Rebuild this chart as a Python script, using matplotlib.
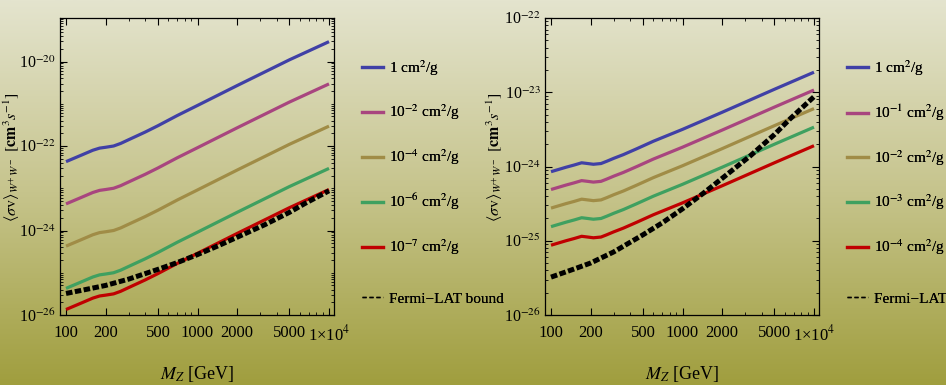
import numpy as np
import matplotlib
matplotlib.use("Agg")
import matplotlib.pyplot as plt
from matplotlib.ticker import FixedLocator, FixedFormatter, NullFormatter
from matplotlib.lines import Line2D

plt.rcParams['font.family'] = ['Liberation Serif', 'DejaVu Serif']
plt.rcParams['mathtext.fontset'] = 'stix'

# ---------------- data (log10 of <sigma v> in cm^3/s) ----------------
mz_left = [100, 130, 160, 180, 200, 230, 260, 300, 400, 500, 700, 1000, 2000, 5000, 10000]
log_left_1 = [-22.37, -22.22, -22.10, -22.05, -22.03, -22.00, -21.94, -21.85, -21.67, -21.52, -21.28, -21.04, -20.57, -19.96, -19.53]
log_left_1e2 = [-23.37, -23.22, -23.10, -23.05, -23.03, -23.00, -22.94, -22.85, -22.67, -22.52, -22.28, -22.04, -21.57, -20.96, -20.53]
log_left_1e4 = [-24.37, -24.22, -24.10, -24.05, -24.03, -24.00, -23.94, -23.85, -23.67, -23.52, -23.28, -23.04, -22.57, -21.96, -21.53]
log_left_1e6 = [-25.37, -25.22, -25.10, -25.05, -25.03, -25.00, -24.94, -24.85, -24.67, -24.52, -24.28, -24.04, -23.57, -22.96, -22.53]
log_left_1e7 = [-25.87, -25.72, -25.60, -25.55, -25.53, -25.50, -25.44, -25.35, -25.17, -25.02, -24.78, -24.54, -24.07, -23.46, -23.03]
labels_left = ['1 cm$^{2}$/g', '10$^{-2}$ cm$^{2}$/g', '10$^{-4}$ cm$^{2}$/g',
               '10$^{-6}$ cm$^{2}$/g', '10$^{-7}$ cm$^{2}$/g']

mz_right = [100, 130, 150, 171, 190, 210, 240, 265, 300, 355, 450, 600, 1000, 2000, 5000, 10000]
log_right_1 = [-24.07, -24.01, -23.98, -23.95, -23.96, -23.97, -23.96, -23.93, -23.89, -23.84, -23.76, -23.66, -23.50, -23.27, -22.96, -22.73]
log_right_1e1 = [-24.31, -24.25, -24.22, -24.19, -24.20, -24.21, -24.20, -24.17, -24.13, -24.08, -24.00, -23.90, -23.74, -23.51, -23.20, -22.97]
log_right_1e2 = [-24.56, -24.50, -24.47, -24.44, -24.45, -24.46, -24.45, -24.42, -24.38, -24.33, -24.25, -24.15, -23.99, -23.76, -23.45, -23.22]
log_right_1e3 = [-24.81, -24.75, -24.72, -24.69, -24.70, -24.71, -24.70, -24.67, -24.63, -24.58, -24.50, -24.40, -24.24, -24.01, -23.70, -23.47]
log_right_1e4 = [-25.06, -25.00, -24.97, -24.94, -24.95, -24.96, -24.95, -24.92, -24.88, -24.83, -24.75, -24.65, -24.49, -24.26, -23.95, -23.72]
labels_right = ['1 cm$^{2}$/g', '10$^{-1}$ cm$^{2}$/g', '10$^{-2}$ cm$^{2}$/g',
                '10$^{-3}$ cm$^{2}$/g', '10$^{-4}$ cm$^{2}$/g']

mz_fermi = [100, 150, 200, 300, 500, 700, 1000, 1440, 2000, 3260, 5000, 6560, 10000]
log_fermi = [-25.49, -25.38, -25.30, -25.15, -24.92, -24.76, -24.57, -24.36, -24.16, -23.86, -23.57, -23.36, -23.06]
fermi_label = 'Fermi\u2212LAT bound'

x_ticks = [100, 200, 500, 1000, 2000, 5000, 10000]
x_ticklabels = ['100', '200', '500', '1000', '2000', '5000', '1\u00d710$^{4}$']

colors = ['#4040a6', '#a8457f', '#a08c46', '#3fa060', '#c00000']

# ---------------- figure ----------------
W, H = 946, 385
fig = plt.figure(figsize=(W / 100, H / 100), dpi=100)

# gradient background
bg = fig.add_axes([0, 0, 1, 1], zorder=-10)
top = np.array([228, 228, 206]) / 255.0
mid = np.array([198, 196, 140]) / 255.0
bot = np.array([160, 158, 62]) / 255.0
t = np.linspace(0, 1, 256)[:, None]
grad = np.where(t < 0.5, top + (mid - top) * (t / 0.5), mid + (bot - mid) * ((t - 0.5) / 0.5))
bg.imshow(grad[:, None, :], aspect='auto', extent=[0, 1, 0, 1], origin='upper')
bg.axis('off')

ax_w = 274 / W
ax_h = (315 - 18) / H
ax_b = 1 - 315 / H
axL = fig.add_axes([60 / W, ax_b, ax_w, ax_h])
axR = fig.add_axes([545 / W, ax_b, ax_w, ax_h])

ylabel = r'$\langle \sigma \mathrm{v} \rangle_{W^{+}\,W^{-}}\;\; [\mathbf{cm}^{3} s^{-1}]$'


def style(ax, ylim, ymajors, ylab_x):
    ax.set_xscale('log')
    ax.set_yscale('log')
    ax.patch.set_alpha(0)
    ax.set_xlim(90, 10915)
    ax.set_ylim(*ylim)
    ax.xaxis.set_major_locator(FixedLocator(x_ticks))
    ax.xaxis.set_major_formatter(FixedFormatter(x_ticklabels))
    xmin = [m * 10 ** e for e in (2, 3) for m in range(1, 10)] + [10000]
    xmin = [v for v in xmin if v not in x_ticks]
    ax.xaxis.set_minor_locator(FixedLocator(xmin))
    ax.xaxis.set_minor_formatter(NullFormatter())
    ax.yaxis.set_major_locator(FixedLocator([10.0 ** e for e in ymajors]))
    ax.yaxis.set_major_formatter(FixedFormatter(['10$^{%d}$' % e for e in ymajors]))
    lo, hi = int(np.log10(ylim[0])), int(np.ceil(np.log10(ylim[1])))
    ymin = [m * 10.0 ** e for e in range(lo, hi + 1) for m in range(1, 10)]
    ymin = [v for v in ymin if not any(abs(np.log10(v) - e) < 1e-6 for e in ymajors)]
    ax.yaxis.set_minor_locator(FixedLocator(ymin))
    ax.yaxis.set_minor_formatter(NullFormatter())
    ax.tick_params(which='both', direction='in', top=True, right=True)
    ax.tick_params(axis='x', labelsize=12, pad=7)
    ax.tick_params(axis='y', labelsize=11.5, pad=3)
    ax.tick_params(which='major', length=5, width=0.8)
    ax.tick_params(which='minor', length=2.5, width=0.6)
    for s in ax.spines.values():
        s.set_linewidth(0.9)
    ax.set_xlabel('$M_{Z}$ [GeV]', fontsize=13)
    ax.xaxis.set_label_coords(0.5, -(364 - 315) / 297)
    ax.set_ylabel(ylabel, fontsize=11.5)
    ax.yaxis.set_label_coords(ylab_x, (315 - 157) / 297)


def draw(ax, mz, series, labels, leg_x):
    handles = []
    for vals, c, lab in zip(series, colors, labels):
        ax.plot(mz, 10.0 ** np.array(vals), color=c, lw=2.3, solid_capstyle='butt')
        handles.append(Line2D([], [], color=c, lw=2.3))
    ax.plot(mz_fermi, 10.0 ** np.array(log_fermi), color='black', lw=3.6,
            dashes=(1.3, 0.5), zorder=5)
    leg1 = fig.legend(handles, labels, loc='upper left',
                      bbox_to_anchor=(leg_x / W, 1 - 58 / H), frameon=False,
                      fontsize=11, handlelength=1.35, handletextpad=0.4,
                      labelspacing=1.64, borderaxespad=0, borderpad=0)
    fig.add_artist(leg1)
    leg2 = fig.legend([Line2D([], [], color='black', lw=1.0, dashes=(3, 2))], [fermi_label],
                      loc='upper left', bbox_to_anchor=(leg_x / W, 1 - 292 / H),
                      frameon=False, fontsize=11, handlelength=1.35,
                      handletextpad=0.4, borderaxespad=0, borderpad=0)
    fig.add_artist(leg2)


style(axL, (1e-26, 10 ** -18.97), [-26, -24, -22, -20], (22 - 60) / 274)
draw(axL, mz_left, [log_left_1, log_left_1e2, log_left_1e4, log_left_1e6, log_left_1e7],
     labels_left, 362)

style(axR, (1e-26, 1e-22), [-26, -25, -24, -23, -22], (505 - 545) / 274)
draw(axR, mz_right, [log_right_1, log_right_1e1, log_right_1e2, log_right_1e3, log_right_1e4],
     labels_right, 847)

fig.savefig('out.png', dpi=100)
